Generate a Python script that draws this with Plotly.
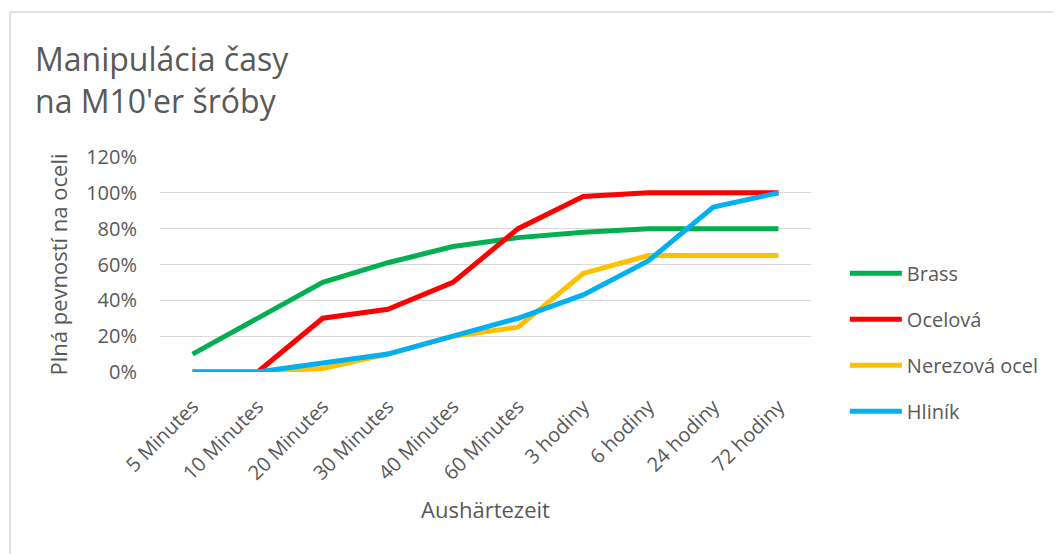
import plotly.graph_objects as go

categories = ["5 Minutes", "10 Minutes", "20 Minutes", "30 Minutes", "40 Minutes",
              "60 Minutes", "3 hodiny", "6 hodiny", "24 hodiny", "72 hodiny"]
brass = [0.10, 0.30, 0.50, 0.61, 0.70, 0.75, 0.78, 0.80, 0.80, 0.80]
ocelova = [0.00, 0.00, 0.30, 0.35, 0.50, 0.80, 0.98, 1.00, 1.00, 1.00]
nerezova = [0.00, 0.00, 0.02, 0.10, 0.20, 0.25, 0.55, 0.65, 0.65, 0.65]
hlinik = [0.00, 0.00, 0.05, 0.10, 0.20, 0.30, 0.43, 0.62, 0.92, 1.00]

series = [("Brass", brass, "#00B050"), ("Ocelová", ocelova, "#FF0000"),
          ("Nerezová ocel", nerezova, "#FFC000"), ("Hliník", hlinik, "#00B0F0")]

FONT = "Open Sans"
GREY = "#595959"

fig = go.Figure()
for name, vals, col in series:
    fig.add_trace(go.Scatter(x=categories, y=vals, name=name, mode="lines",
                             legendgroup=name,
                             line=dict(color=col, width=5)))

fig.update_layout(
    width=1053, height=546,
    margin=dict(l=152, r=250, t=149, b=182),
    paper_bgcolor="white", plot_bgcolor="white",
    font=dict(family=FONT, color=GREY, size=20),
    showlegend=True,
    legend=dict(x=1.052, y=0.55, xanchor="left", yanchor="top",
                font=dict(size=20, color=GREY), traceorder="grouped",
                tracegroupgap=17, itemwidth=52),
    xaxis=dict(type="category", range=[-0.5, 9.5], tickangle=-45,
               showgrid=False, showline=False, ticks="",
               ticklabelstandoff=18,
               tickfont=dict(size=20, color=GREY),
               title=dict(text="Aushärtezeit", font=dict(size=22, color=GREY), standoff=18)),
    yaxis=dict(range=[0, 1.2], dtick=0.2, tickformat=".0%",
               showgrid=True, gridcolor="#D9D9D9", gridwidth=1.3,
               zeroline=False, showline=False, ticks="",
               ticklabelstandoff=22,
               tickfont=dict(size=20, color=GREY),
               title=dict(text="Plná pevností na oceli", font=dict(size=22, color=GREY), standoff=12)),
    annotations=[dict(text="Manipulácia časy<br>na M10'er šróby", xref="paper", yref="paper",
                      x=-0.195, y=1.567, xanchor="left", yanchor="top", showarrow=False,
                      align="left", font=dict(size=32, color=GREY, family=FONT))],
    shapes=[
        dict(type="line", xref="paper", yref="paper", x0=-0.2304, x1=-0.2304, y0=1.674, y1=-1.0,
             line=dict(color="#D9D9D9", width=1.5)),
        dict(type="line", xref="paper", yref="paper", x0=-0.2304, x1=1.5, y0=1.674, y1=1.674,
             line=dict(color="#D9D9D9", width=1.5)),
    ],
)

fig.write_html("out.html")
